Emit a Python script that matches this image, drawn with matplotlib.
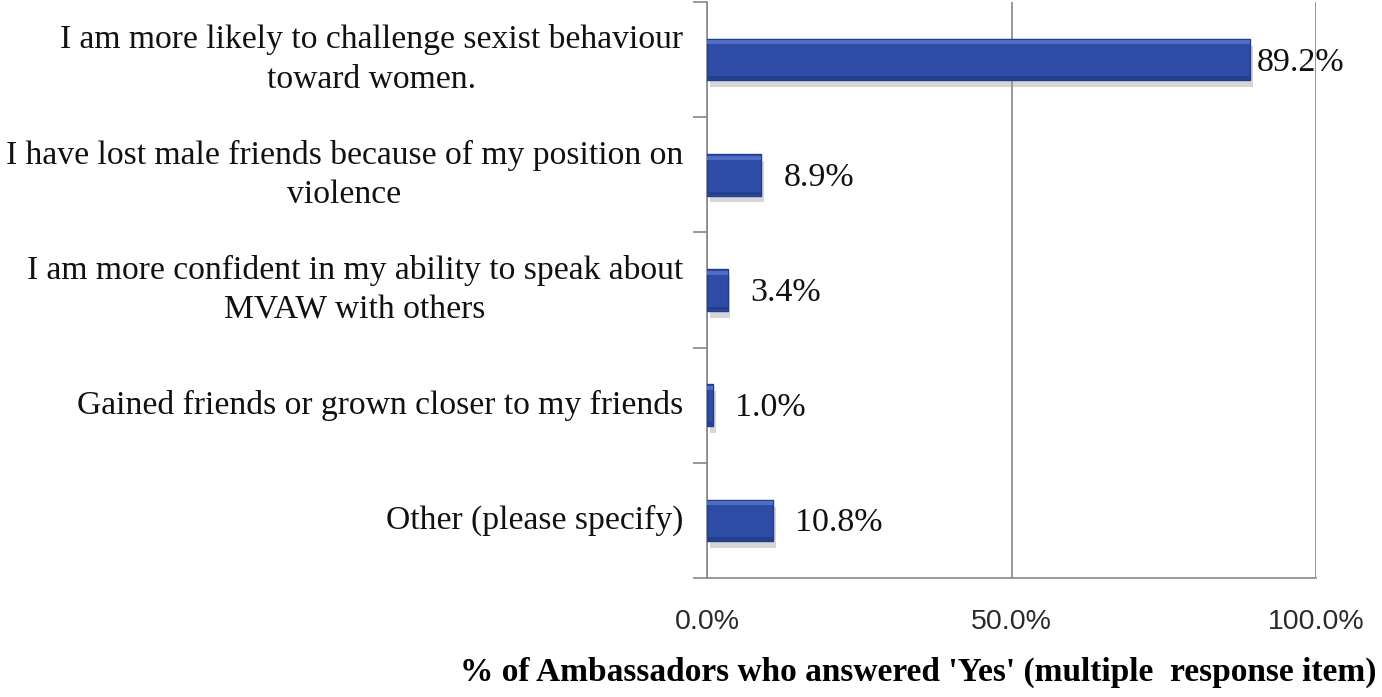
import matplotlib.pyplot as plt
import matplotlib.patheffects as pe

categories = [
    "I am more likely to challenge sexist behaviour\ntoward women.",
    "I have lost male friends because of my position on\nviolence",
    "I am more confident in my ability to speak about\nMVAW with others",
    "Gained friends or grown closer to my friends",
    "Other (please specify)",
]
values = [89.2, 8.9, 3.4, 1.0, 10.8]
xticks = [0, 50, 100]
xtick_labels = ["0.0%", "50.0%", "100.0%"]

fig = plt.figure(figsize=(13.82, 6.97), dpi=100)
ax = fig.add_axes([707 / 1382, 1 - 578 / 697, 609 / 1382, 576 / 697])

n = len(categories)
ypos = list(range(n))
bar_h = 0.36

# main bars with a soft drop shadow
bars = ax.barh(ypos, values, height=bar_h, color="#2E4CA6", edgecolor="#223D8C",
               linewidth=1, zorder=3)
for b in bars:
    b.set_path_effects([pe.SimplePatchShadow(offset=(2, -5), shadow_rgbFace="#999999", alpha=0.4),
                        pe.Normal()])
# lighter bevel strip along the top of each bar
ax.barh([y - bar_h / 2 + 0.03 for y in ypos], values, height=0.035,
        color="#4F6DC2", linewidth=0, zorder=4)
# darker strip along the bottom
ax.barh([y + bar_h / 2 - 0.02 for y in ypos], values, height=0.03,
        color="#243F8C", linewidth=0, zorder=4)

for y, v in zip(ypos, values):
    off = 5 if v > 80 else 16
    ax.annotate(f"{v:.1f}%", (v, y), xytext=(off, -2), textcoords="offset points",
                ha="left", va="center", fontsize=24.5, family="Liberation Serif",
                color="#111111", zorder=5)

ax.set_xlim(0, 100)
ax.set_ylim(n - 0.5, -0.5)
ax.set_xticks(xticks)
ax.set_xticklabels(xtick_labels, fontsize=20.5, family="Liberation Sans", color="#2a2a2a")
ax.tick_params(axis="x", length=0, pad=22)

# category labels and separator ticks
ax.set_yticks([y - 0.5 for y in ypos] + [n - 0.5])
ax.set_yticklabels([])
ax.tick_params(axis="y", length=10, width=1.2, color="#888888")
for y, lab in zip(ypos, categories):
    ax.text(-24 / 609 * 100, y, lab, ha="right", va="center", multialignment="center",
            fontsize=24.2, family="Liberation Serif", color="#111111", linespacing=1.38,
            transform=ax.transData, clip_on=False)

ax.grid(axis="x", color="#888888", linewidth=1.2, zorder=0)
for s in ["top", "right"]:
    ax.spines[s].set_visible(False)
ax.spines["left"].set_color("#888888")
ax.spines["bottom"].set_color("#888888")
ax.spines["left"].set_linewidth(1.2)
ax.spines["bottom"].set_linewidth(1.2)

fig.text(918 / 1382, 1 - 672 / 697, "% of Ambassadors who answered 'Yes' (multiple  response item)",
         ha="center", va="center", fontsize=24, fontweight="bold", family="Liberation Serif")

fig.savefig("out.png", dpi=100, facecolor="white")
